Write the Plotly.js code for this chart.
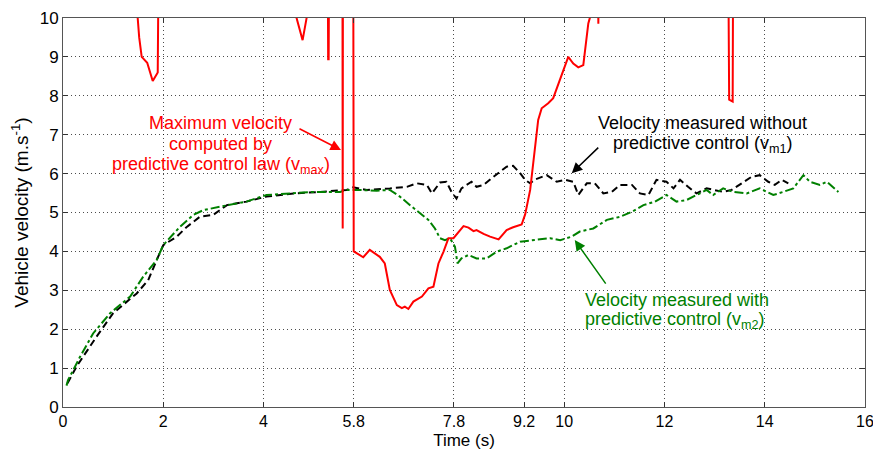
<!DOCTYPE html>
<html>
<head>
<meta charset="utf-8">
<script src="https://cdn.plot.ly/plotly-3.0.1.min.js"></script>
<style>html,body{margin:0;padding:0;background:#fff;}#chart{width:873px;height:450px;}</style>
</head>
<body>
<div id="chart"></div>
<script>
// Maximum velocity computed by predictive control law (v_max); values above 10 are off-chart
const vmaxTime = [1.47,1.49,1.52,1.57,1.68,1.79,1.89,1.90,1.91,
  4.65,4.66,4.78,4.86,4.87,
  5.28,5.29,5.30,5.31,
  5.575,5.58,5.585,
  5.79,5.80,5.99,6.12,6.32,6.42,6.52,6.66,6.76,6.82,6.89,6.99,7.16,7.29,7.39,7.49,7.59,7.69,7.79,7.99,8.09,8.19,8.25,8.39,8.52,8.69,8.85,8.98,9.15,9.22,9.32,9.42,9.48,9.55,9.68,9.78,9.88,9.98,10.08,10.18,10.28,10.38,10.43,10.48,10.51,10.52,
  10.67,10.68,10.69,
  13.27,13.29,13.36,13.37,13.5];
const vmaxVel = [12,10.0,9.5,9.0,8.85,8.38,8.6,10.0,12,
  12,10.0,9.43,10.0,12,
  12,8.94,8.94,12,
  12,4.59,12,
  12,4.0,3.85,4.04,3.86,3.69,3.01,2.62,2.54,2.58,2.52,2.71,2.84,3.05,3.09,3.69,3.99,4.34,4.34,4.65,4.61,4.52,4.55,4.45,4.38,4.31,4.55,4.62,4.69,4.95,5.58,6.78,7.38,7.68,7.81,7.94,8.28,8.62,9.0,8.83,8.73,8.79,9.35,9.86,10.0,12,
  12,9.85,12,
  12,7.9,7.85,12,12];

// Velocity measured without predictive control (v_m1)
const vm1Time = [0.09,0.27,0.67,1.0,1.47,1.70,1.87,2.0,2.27,2.47,2.73,3.0,3.27,3.66,4.06,4.6,5.13,5.66,5.79,6.06,6.52,6.86,7.06,7.26,7.36,7.52,7.65,7.75,7.85,7.95,8.05,8.15,8.25,8.39,8.55,8.69,8.85,8.98,9.12,9.22,9.32,9.42,9.65,9.85,10.02,10.18,10.28,10.45,10.61,10.78,10.95,11.11,11.35,11.51,11.68,11.84,12.04,12.18,12.31,12.47,12.64,12.84,13.01,13.17,13.34,13.54,13.74,13.9,14.07,14.2,14.34,14.47];
const vm1Vel = [0.61,1.04,1.81,2.41,2.92,3.26,3.78,4.16,4.38,4.63,4.89,4.94,5.19,5.28,5.41,5.49,5.53,5.58,5.65,5.58,5.62,5.66,5.75,5.71,5.49,5.77,5.79,5.53,5.36,5.62,5.71,5.79,5.66,5.71,5.88,6.01,6.18,6.2,6.01,5.84,5.75,5.85,5.96,5.79,5.84,5.79,5.45,5.75,5.75,5.49,5.53,5.71,5.71,5.49,5.45,5.84,5.79,5.62,5.84,5.66,5.49,5.62,5.58,5.53,5.58,5.75,5.92,5.96,5.79,5.71,5.84,5.75];

// Velocity measured with predictive control (v_m2)
const vm2Time = [0.07,0.1,0.34,0.6,0.94,1.34,1.6,1.87,2.0,2.33,2.6,2.8,3.13,3.66,4.06,4.46,4.99,5.53,5.66,5.93,6.26,6.52,6.72,6.96,7.12,7.29,7.42,7.52,7.62,7.72,7.82,7.87,7.95,8.09,8.25,8.45,8.65,8.85,9.12,9.45,9.72,9.92,10.15,10.31,10.58,10.85,11.11,11.35,11.58,11.81,12.04,12.24,12.44,12.64,12.84,12.97,13.17,13.37,13.64,13.9,14.17,14.37,14.57,14.77,14.9,15.1,15.24,15.47];
const vm2Vel = [0.55,0.69,1.29,1.89,2.41,2.84,3.35,3.78,4.16,4.63,4.94,5.06,5.15,5.28,5.45,5.49,5.53,5.53,5.58,5.58,5.56,5.58,5.41,5.15,4.98,4.81,4.59,4.34,4.29,4.34,4.12,3.69,3.82,3.91,3.82,3.82,3.99,4.08,4.25,4.29,4.34,4.29,4.38,4.51,4.59,4.81,4.89,5.02,5.19,5.28,5.45,5.28,5.32,5.45,5.58,5.45,5.62,5.53,5.49,5.62,5.45,5.53,5.62,5.96,5.79,5.71,5.79,5.53];

const xTickVals = [0,2,4,5.8,7.8,9.2,10,12,14,16];
const xTickText = ['0','2','4','5.8','7.8','9.2','10','12','14','16'];

const FONT = 'Liberation Sans, Arial, Helvetica, sans-serif';
const RED = '#ff0000', GREEN = 'rgb(0,128,0)', BLACK = '#000000';

const traces = [
  {x: vm1Time, y: vm1Vel, mode: 'lines', line: {color: BLACK, width: 2, dash: '7px,4px'}, hoverinfo: 'skip'},
  {x: vm2Time, y: vm2Vel, mode: 'lines', line: {color: GREEN, width: 2, dash: 'dashdot'}, hoverinfo: 'skip'},
  {x: vmaxTime, y: vmaxVel, mode: 'lines', line: {color: RED, width: 2}, hoverinfo: 'skip'}
];

function txt(text, x, y, color, anchor) {
  return {x: x, y: y, xref: 'x', yref: 'y', text: text, showarrow: false,
    xanchor: anchor || 'center', yanchor: 'middle', font: {family: FONT, size: 18, color: color}};
}
function arrow(x, y, ax, ay, color) {
  return {x: x, y: y, xref: 'x', yref: 'y', ax: ax, ay: ay, text: '', showarrow: true,
    arrowhead: 2, arrowsize: 1.4, arrowwidth: 1.5, arrowcolor: color, standoff: 0, startstandoff: 0};
}

const layout = {
  width: 873, height: 450,
  margin: {l: 63, r: 8, t: 18, b: 43},
  paper_bgcolor: '#fff', plot_bgcolor: '#fff',
  showlegend: false,
  font: {family: FONT, size: 16, color: '#000'},
  xaxis: {
    range: [0, 16], tickvals: xTickVals, ticktext: xTickText,
    ticks: 'inside', ticklen: 5, tickcolor: '#333', mirror: 'ticks', showline: true, linecolor: '#555', linewidth: 1,
    showgrid: true, gridcolor: 'rgba(0,0,0,0.7)', griddash: '1px,3px', gridwidth: 1, zeroline: false,
    ticklabeloverflow: 'allow',
    tickfont: {family: FONT, size: 16, color: '#000'},
    title: {text: 'Time (s)', font: {family: FONT, size: 17, color: '#000'}, standoff: 4}
  },
  yaxis: {
    range: [0, 10], dtick: 1,
    ticks: 'inside', ticklen: 5, tickcolor: '#333', mirror: 'ticks', showline: true, linecolor: '#555', linewidth: 1,
    showgrid: true, gridcolor: 'rgba(0,0,0,0.7)', griddash: '1px,3px', gridwidth: 1, zeroline: false,
    ticklabeloverflow: 'allow',
    tickfont: {family: FONT, size: 17, color: '#000'},
    title: {text: 'Vehicle velocity (m.s<sup>-1</sup>)', font: {family: FONT, size: 19, color: '#000'}, standoff: 6}
  },
  annotations: [
    txt('Maximum velocity', 3.15, 7.31, RED),
    txt('computed by', 3.15, 6.76, RED),
    txt('predictive control law (v<sub>max</sub>)', 3.15, 6.22, RED),
    arrow(5.546, 6.607, -43, -22, RED),
    txt('Velocity measured without', 12.76, 7.29, BLACK),
    txt('predictive control (v<sub>m1</sub>)', 12.76, 6.75, BLACK),
    arrow(10.15, 6.01, 28, -27, BLACK),
    txt('Velocity measured with', 10.37, 2.75, GREEN, 'left'),
    txt('predictive control (v<sub>m2</sub>)', 10.37, 2.22, GREEN, 'left'),
    arrow(10.21, 4.29, 32, 45, GREEN)
  ]
};

Plotly.newPlot('chart', traces, layout, {staticPlot: true, displayModeBar: false});
</script>
</body>
</html>
